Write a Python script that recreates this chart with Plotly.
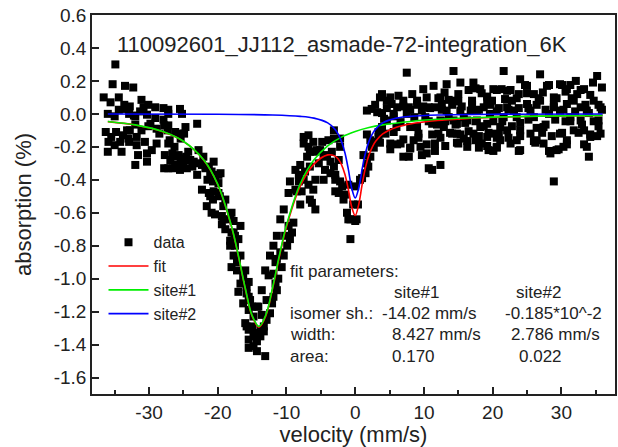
import plotly.graph_objects as go

# ---------------- data ----------------
left_wing = [
    (-36.6, 0.10), (-36.0, 0.00), (-36.3, -0.11), (-36.0, -0.23), (-35.9, -0.17),
    (-35.6, 0.07), (-35.3, 0.18), (-35.5, -0.14), (-35.0, -0.015), (-35.0, -0.19),
    (-34.9, 0.30), (-34.4, 0.10), (-34.4, 0.025), (-34.8, -0.11), (-34.2, -0.17), (-34.0, -0.23),
    (-33.5, 0.17), (-33.6, 0.055), (-33.4, 0.03), (-33.8, -0.13), (-33.2, -0.10), (-33.0, -0.15),
    (-32.3, 0.16), (-32.8, 0.045), (-32.9, 0.0), (-32.2, -0.01), (-32.8, -0.10), (-32.0, -0.065),
    (-32.9, -0.17), (-32.0, -0.31),
    (-31.1, 0.085), (-31.3, 0.015), (-32.0, -0.015), (-31.1, -0.10), (-31.8, -0.14), (-31.8, -0.19),
    (-31.6, -0.25),
    (-30.8, 0.04), (-30.1, 0.055), (-30.3, -0.005), (-30.1, -0.075), (-30.6, -0.17), (-30.3, -0.24),
    (-30.3, -0.29),
    (-29.1, 0.04), (-29.1, -0.025), (-29.8, -0.06), (-28.9, -0.09), (-28.9, -0.18), (-29.6, -0.22),
    (-27.9, 0.035), (-27.9, -0.035), (-27.8, -0.07), (-28.5, -0.12), (-27.3, -0.10), (-27.0, -0.16),
    (-27.7, -0.25), (-27.8, -0.33), (-27.2, -0.33),
    (-27.2, 0.025), (-27.2, 0.0), (-27.2, -0.07), (-27.2, -0.18), (-26.9, -0.28),
    (-26.6, -0.24), (-26.1, -0.26), (-26.3, -0.20), (-26.2, -0.11), (-26.2, -0.32), (-26.6, -0.33),
    (-25.5, 0.03), (-25.2, 0.0), (-25.5, -0.12), (-25.4, -0.15), (-25.7, -0.25), (-25.4, -0.27),
    (-25.9, -0.31), (-25.0, -0.30), (-25.5, -0.34),
    (-24.9, -0.12), (-24.7, -0.08), (-24.3, -0.23), (-24.0, -0.28), (-24.6, -0.26), (-24.5, -0.33),
    (-23.0, -0.06), (-23.5, -0.29), (-23.7, -0.32), (-23.0, -0.37), (-22.8, -0.22),
    (-22.6, -0.30), (-22.1, -0.26), (-22.3, -0.31), (-21.8, -0.33), (-22.3, -0.46),
    (-21.3, -0.32), (-21.1, -0.36), (-20.9, -0.35), (-20.6, -0.29), (-21.5, -0.40), (-20.7, -0.41),
    (-21.3, -0.48), (-21.1, -0.50), (-20.6, -0.47), (-20.7, -0.52), (-21.6, -0.56), (-20.9, -0.60),
    (-20.4, -0.61), (-20.4, -0.40), (-19.9, -0.37), (-19.6, -0.36), (-19.9, -0.42), (-19.9, -0.48),
    (-19.7, -0.50), (-19.2, -0.56), (-18.9, -0.52), (-19.4, -0.62), (-19.2, -0.64), (-19.4, -0.67),
    (-18.9, -0.70), (-18.2, -0.64),
]

main_dip = [
    (-18.0, -0.72), (-17.7, -0.72), (-18.2, -0.77), (-18.2, -0.80), (-17.7, -0.86), (-18.0, -0.93),
    (-18.0, -0.60), (-17.7, -0.65), (-17.0, -0.76), (-17.5, -0.80), (-17.5, -0.74), (-16.7, -0.68),
    (-16.7, -0.86), (-17.2, -0.90), (-17.2, -0.95), (-16.0, -0.95), (-16.3, -0.99), (-15.5, -1.02),
    (-16.7, -1.03), (-15.8, -1.05), (-17.0, -1.08), (-15.8, -1.09), (-15.5, -1.11), (-16.3, -1.15),
    (-15.3, -1.13), (-15.5, -1.19), (-15.0, -1.17), (-14.8, -1.23), (-14.3, -1.17), (-15.0, -1.29),
    (-15.8, -1.29), (-16.0, -1.27), (-15.5, -1.31), (-14.6, -1.33), (-14.8, -1.35), (-15.5, -1.37),
    (-14.3, -1.38), (-14.8, -1.41), (-15.5, -1.42), (-14.3, -1.44), (-13.1, -1.47), (-13.8, -1.31),
    (-13.3, -1.29), (-13.3, -1.32), (-13.8, -1.35),
    (-12.9, -1.25), (-12.4, -1.21), (-13.6, -1.22), (-14.1, -1.17), (-12.1, -1.15), (-12.9, -1.13),
    (-11.9, -1.11), (-13.6, -1.07), (-11.4, -1.07), (-11.6, -1.03), (-11.2, -1.00), (-11.9, -0.97),
    (-12.6, -0.98), (-13.1, -0.95), (-10.7, -0.93), (-11.6, -0.90), (-11.4, -0.88), (-12.4, -0.86),
    (-10.4, -0.86), (-10.9, -0.84), (-11.9, -0.80), (-9.9, -0.80), (-9.5, -0.76), (-11.4, -0.74),
    (-10.2, -0.74), (-9.2, -0.72), (-9.7, -0.68), (-9.0, -0.66), (-10.9, -0.64), (-10.4, -0.58),
    (-9.7, -0.48), (-8.7, -0.46), (-9.5, -0.41), (-8.7, -0.34), (-8.2, -0.37),
]

centre_dip = [
    (-8.5, -0.47), (-8.2, -0.41), (-8.0, -0.31), (-8.0, -0.55), (-7.8, -0.47), (-7.5, -0.14),
    (-7.5, -0.18), (-7.5, -0.40), (-7.3, -0.35), (-7.0, -0.26), (-6.8, -0.13), (-6.8, -0.20),
    (-6.8, -0.43), (-6.6, -0.23), (-6.6, -0.32), (-6.6, -0.52), (-6.3, -0.54), (-6.1, -0.17),
    (-6.1, -0.46), (-5.8, -0.23), (-5.8, -0.40), (-5.8, -0.58), (-5.6, -0.22), (-5.3, -0.30),
    (-5.1, -0.22), (-4.8, -0.17), (-4.6, -0.26), (-4.6, -0.40), (-4.4, -0.34), (-4.1, -0.25),
    (-3.9, -0.16), (-3.6, -0.29), (-3.6, -0.36), (-3.4, -0.23), (-3.1, -0.10), (-3.1, -0.15),
    (-3.1, -0.32), (-2.9, -0.37), (-2.9, -0.40), (-2.9, -0.47), (-2.4, -0.28), (-2.4, -0.48),
    (-2.2, -0.15), (-2.2, -0.20), (-2.2, -0.41), (-1.9, -0.44), (-1.7, -0.52), (-1.5, -0.49),
    (-1.2, -0.60), (-1.0, -0.43), (-1.0, -0.64), (-0.7, -0.64), (-0.7, -0.76), (-0.3, -0.55),
    (0.0, -0.65), (0.2, -0.64), (0.0, -0.44), (0.4, -0.55), (0.7, -0.40), (1.0, -0.39),
    (1.2, -0.25), (1.5, -0.36), (1.7, -0.30), (1.9, -0.32), (2.2, -0.26), (2.4, -0.20),
    (2.9, -0.17), (3.4, -0.11), (3.9, -0.08), (2.2, -0.16), (3.4, -0.14), (1.7, 0.02),
    (2.4, 0.03), (3.2, 0.01), (3.6, 0.10), (3.9, 0.12), (1.7, -0.125), (2.7, -0.205),
    (3.6, -0.175), (2.9, 0.055), (3.9, 0.005),
]

right_wing = [
    (4.6, 0.08), (4.6, -0.04), (5.6, 0.0), (6.1, 0.04), (6.6, -0.05), (7.5, 0.0), (7.8, 0.04),
    (7.0, 0.08), (4.4, -0.12), (5.6, -0.11), (5.1, -0.18), (6.6, -0.18), (8.0, -0.21), (7.0, -0.26),
    (8.5, -0.16), (9.2, -0.12), (9.0, -0.08), (10.7, -0.33), (11.2, -0.34), (7.5, 0.25),
    (9.9, 0.15), (10.4, 0.10), (11.4, 0.17), (11.6, 0.04), (10.7, 0.04), (12.4, 0.10), (12.6, 0.06),
    (13.3, 0.02), (14.3, 0.08), (15.0, 0.12), (14.3, 0.26), (13.6, -0.02), (14.8, -0.06),
    (14.1, -0.12), (15.0, -0.18), (15.8, -0.15), (16.3, -0.04), (17.2, 0.19), (18.2, 0.15),
    (17.0, 0.08), (17.7, 0.02), (18.7, 0.04), (18.2, -0.08), (17.2, -0.12), (18.4, -0.18),
    (19.2, -0.14), (19.4, -0.22), (20.6, -0.20), (20.1, -0.12), (21.1, -0.08), (21.6, -0.02),
    (21.3, 0.15), (22.8, 0.08), (22.1, 0.04), (23.1, 0.02), (23.8, 0.12), (24.0, 0.21),
    (21.6, 0.26), (26.9, 0.24), (25.0, 0.17), (26.0, 0.12), (26.9, 0.08), (27.9, 0.17),
    (28.9, 0.10), (29.8, 0.18), (30.8, 0.15), (32.3, 0.12), (33.3, 0.15), (35.2, 0.23),
    (35.9, 0.16), (34.7, 0.08), (35.7, 0.04), (35.4, -0.04), (35.7, -0.12), (34.2, -0.14),
    (33.7, -0.20), (34.0, -0.26), (30.3, -0.20), (29.3, -0.22), (28.4, -0.24), (28.9, -0.41),
    (31.8, -0.10), (32.8, -0.04), (31.3, -0.02), (29.8, 0.02), (28.2, 0.0), (26.0, -0.02),
    (25.5, -0.12), (26.4, -0.16), (27.4, -0.08), (24.0, -0.10), (23.5, -0.16), (24.0, -0.22),
    (22.6, -0.18), (22.1, -0.10), (21.1, -0.16), (19.2, -0.06), (15.8, -0.02), (15.3, 0.02),
    (12.9, -0.08), (12.1, -0.12), (11.6, -0.18), (14.8, -0.12), (16.3, -0.20), (17.5, -0.16),
    (10.4, -0.24), (9.5, -0.20), (8.0, -0.08), (9.7, 0.02), (9.0, 0.08), (13.3, 0.18),
    (15.3, 0.19), (20.1, 0.15), (19.9, 0.08), (19.2, 0.08), (22.1, 0.14), (25.0, 0.06),
    (25.5, 0.02), (28.9, 0.04), (30.8, 0.06), (32.8, 0.04), (33.7, 0.02), (31.8, 0.08),
    (33.3, -0.10), (30.8, -0.16), (29.8, -0.12), (27.4, -0.18), (23.5, -0.02), (19.6, 0.0),
    (17.7, -0.04), (14.3, -0.04), (12.4, -0.04), (11.2, -0.06), (10.2, -0.02), (5.1, 0.10),
    (4.6, 0.035), (5.6, -0.015), (7.0, 0.045), (8.0, 0.025), (9.0, 0.055), (9.9, 0.045),
    (5.1, -0.215), (6.1, -0.185), (7.0, -0.155), (8.0, -0.205), (9.2, -0.145), (10.4, -0.185),
    (7.8, -0.26), (9.7, -0.25),
    (12.1, 0.095), (13.6, 0.085), (15.0, 0.075), (16.5, 0.145), (17.5, 0.155), (18.4, 0.125),
    (19.2, 0.105), (20.6, 0.145), (10.9, 0.035), (12.6, 0.025), (14.1, 0.055), (15.5, 0.045),
    (17.0, 0.055), (18.0, 0.025), (19.7, 0.055), (20.6, 0.015), (10.7, -0.045), (11.9, -0.065),
    (13.1, -0.045), (14.6, -0.065), (16.0, -0.055), (17.5, -0.045), (18.7, -0.075), (20.1, -0.045),
    (11.2, -0.125), (12.4, -0.145), (13.8, -0.115), (15.3, -0.125), (16.5, -0.105), (18.0, -0.135),
    (19.4, -0.115), (20.6, -0.145), (11.6, -0.225), (13.1, -0.195), (14.8, -0.175), (16.3, -0.165),
    (18.0, -0.205), (19.2, -0.195), (20.1, -0.225), (12.4, -0.31),
    (22.6, 0.145), (23.5, 0.095), (24.7, 0.175), (25.0, 0.125), (28.2, 0.175), (29.3, 0.095),
    (30.1, 0.175), (30.6, 0.135), (26.7, 0.095), (20.9, 0.035), (22.3, 0.025), (23.8, 0.035),
    (25.2, 0.035), (26.4, 0.055), (27.7, 0.025), (28.9, 0.055), (30.3, 0.025), (21.4, -0.045),
    (22.8, -0.075), (24.0, -0.055), (25.2, -0.035), (26.4, -0.085), (27.7, -0.065), (29.1, -0.035),
    (30.6, -0.045), (20.9, -0.125), (22.3, -0.145), (24.0, -0.135), (26.0, -0.165), (27.2, -0.115),
    (28.6, -0.135), (30.1, -0.115), (20.6, -0.205), (23.8, -0.225), (26.2, -0.175), (28.2, -0.225),
    (29.6, -0.215),
    (31.3, 0.175), (32.8, 0.145), (34.2, 0.115), (31.5, 0.095), (33.5, 0.055), (35.4, 0.055),
    (35.9, 0.025), (32.0, 0.015), (34.0, 0.005), (31.3, -0.045), (33.0, -0.065), (34.7, -0.045),
    (35.4, -0.075), (32.5, -0.115), (34.2, -0.125), (35.2, -0.135), (33.3, -0.185), (30.8, -0.185),
    (5.3, 0.06), (6.3, 0.11), (8.3, 0.12), (6.0, -0.08), (8.6, -0.02), (4.2, -0.03),
    (13.0, 0.13), (16.8, 0.02), (21.8, 0.09), (27.3, 0.13), (32.1, 0.20), (34.6, 0.19),
]

# fit curves
fit_v = [-36, -32, -28, -25, -22, -20, -18, -17, -16, -15, -14, -13, -12, -11, -10, -8, -6, -4,
         -3, -2.5, -2, -1.5, -1, -0.5, 0, 0.5, 1, 1.5, 2, 2.5, 3, 4, 6, 8, 12, 16, 20, 25, 30, 36]
fit_a = [-0.047, -0.068, -0.109, -0.167, -0.283, -0.430, -0.685, -0.863, -1.061, -1.228, -1.295,
         -1.225, -1.056, -0.860, -0.685, -0.439, -0.305, -0.249, -0.255, -0.273, -0.308, -0.367,
         -0.459, -0.566, -0.617, -0.552, -0.431, -0.325, -0.250, -0.200, -0.165, -0.122, -0.081,
         -0.061, -0.040, -0.029, -0.022, -0.016, -0.013, -0.010]

site1_v = [-36, -32, -28, -25, -22, -20, -18, -17, -16, -15, -14, -13, -12, -11, -10, -8, -6, -4,
           -2, 0, 2, 4, 8, 12, 16, 20, 25, 30, 36]
site1_a = [-0.046, -0.067, -0.107, -0.166, -0.281, -0.428, -0.682, -0.860, -1.057, -1.224, -1.290,
           -1.219, -1.049, -0.852, -0.675, -0.424, -0.279, -0.194, -0.141, -0.107, -0.083, -0.067,
           -0.046, -0.033, -0.025, -0.020, -0.015, -0.012, -0.009]

site2_v = [-36, -20, -12, -8, -6, -4, -3, -2.5, -2, -1.5, -1, -0.5, 0, 0.5, 1, 1.5, 2, 2.5, 3,
           4, 6, 8, 12, 20, 36]
site2_a = [-0.001, -0.002, -0.007, -0.015, -0.026, -0.055, -0.091, -0.121, -0.167, -0.236, -0.337,
           -0.452, -0.510, -0.452, -0.337, -0.236, -0.167, -0.121, -0.091, -0.055, -0.026, -0.015,
           -0.007, -0.002, -0.001]

x_tick_vals = [-30, -20, -10, 0, 10, 20, 30]
x_tick_text = ["-30", "-20", "-10", "0", "10", "20", "30"]
y_tick_vals = [0.6, 0.4, 0.2, 0.0, -0.2, -0.4, -0.6, -0.8, -1.0, -1.2, -1.4, -1.6]
y_tick_text = ["0.6", "0.4", "0.2", "0.0", "-0.2", "-0.4", "-0.6", "-0.8", "-1.0", "-1.2", "-1.4", "-1.6"]

title_text = "110092601_JJ112_asmade-72-integration_6K"
param_rows = [
    ("fit parameters:", "", ""),
    ("", "site#1", "site#2"),
    ("isomer sh.:", "-14.02 mm/s", "-0.185*10^-2"),
    ("width:", "8.427 mm/s", "2.786 mm/s"),
    ("area:", "0.170", "0.022"),
]

# ---------------- figure ----------------
pts = left_wing + main_dip + centre_dip + right_wing
data_v = [p[0] for p in pts]
data_a = [p[1] for p in pts]

FONT = "Arial, Liberation Sans, Helvetica, sans-serif"

fig = go.Figure()
fig.add_trace(go.Scatter(x=data_v, y=data_a, mode="markers", name="data",
                         marker=dict(symbol="square", size=8, color="black", line=dict(width=0))))
fig.add_trace(go.Scatter(x=fit_v, y=fit_a, mode="lines", name="fit",
                         line=dict(color="#ff0000", width=1.6, shape="spline", smoothing=1)))
fig.add_trace(go.Scatter(x=site1_v, y=site1_a, mode="lines", name="site#1",
                         line=dict(color="#00ee00", width=1.6, shape="spline", smoothing=1)))
fig.add_trace(go.Scatter(x=site2_v, y=site2_a, mode="lines", name="site#2",
                         line=dict(color="#0000ff", width=1.6, shape="spline", smoothing=1)))

ann = []
ann.append(dict(text=title_text, x=0.044, y=0.921, xref="paper", yref="paper",
                xanchor="left", yanchor="middle", showarrow=False,
                font=dict(size=22, color="#222", family=FONT)))
col_x = [0.3748, 0.5700, 0.7980]
row_y = [0.3227, 0.2673, 0.2111, 0.1557, 0.0984]
col_shift = {("isomer sh.:", 1): 0.5507, ("isomer sh.:", 2): 0.7859,
             ("", 1): 0.5736, ("", 2): 0.8069, ("area:", 2): 0.8126}
for ri, row in enumerate(param_rows):
    for ci, txt in enumerate(row):
        if not txt:
            continue
        xx = col_shift.get((row[0], ci), col_x[ci])
        ann.append(dict(text=txt, x=xx, y=row_y[ri], xref="paper", yref="paper",
                        xanchor="left", yanchor="middle", showarrow=False,
                        font=dict(size=17, color="#222", family=FONT)))

fig.update_layout(
    width=618, height=447,
    margin=dict(l=92, r=3, t=15, b=53),
    paper_bgcolor="white", plot_bgcolor="white",
    font=dict(family=FONT, color="#222"),
    showlegend=True,
    legend=dict(x=0.022, y=0.445, xanchor="left", yanchor="top",
                bgcolor="rgba(0,0,0,0)", borderwidth=0, itemwidth=40,
                font=dict(size=16, color="#222", family=FONT)),
    annotations=ann,
)
fig.update_xaxes(range=[-38.3, 37.8], tickvals=x_tick_vals, ticktext=x_tick_text,
                 ticks="inside", ticklen=7, tickwidth=1.5, tickcolor="#222",
                 minor=dict(tick0=-35, dtick=10, ticks="inside", ticklen=4, tickwidth=1.5, tickcolor="#222"),
                 showline=True, linecolor="#222", linewidth=1.5, mirror=True,
                 showgrid=False, zeroline=False, automargin=False,
                 tickfont=dict(size=19, color="#222", family=FONT),
                 title=dict(text="velocity (mm/s)", font=dict(size=22, color="#222", family=FONT), standoff=2))
fig.update_yaxes(range=[-1.7, 0.6], tickvals=y_tick_vals, ticktext=y_tick_text,
                 ticks="inside", ticklen=7, tickwidth=1.5, tickcolor="#222",
                 showline=True, linecolor="#222", linewidth=1.5, mirror=True,
                 showgrid=False, zeroline=False, automargin=False,
                 tickfont=dict(size=19, color="#222", family=FONT),
                 title=dict(text="absorption (%)", font=dict(size=22, color="#222", family=FONT), standoff=16))

fig.write_html("out.html", config={"displayModeBar": False},
               post_script="document.body.style.margin='0';document.body.style.padding='0';")
